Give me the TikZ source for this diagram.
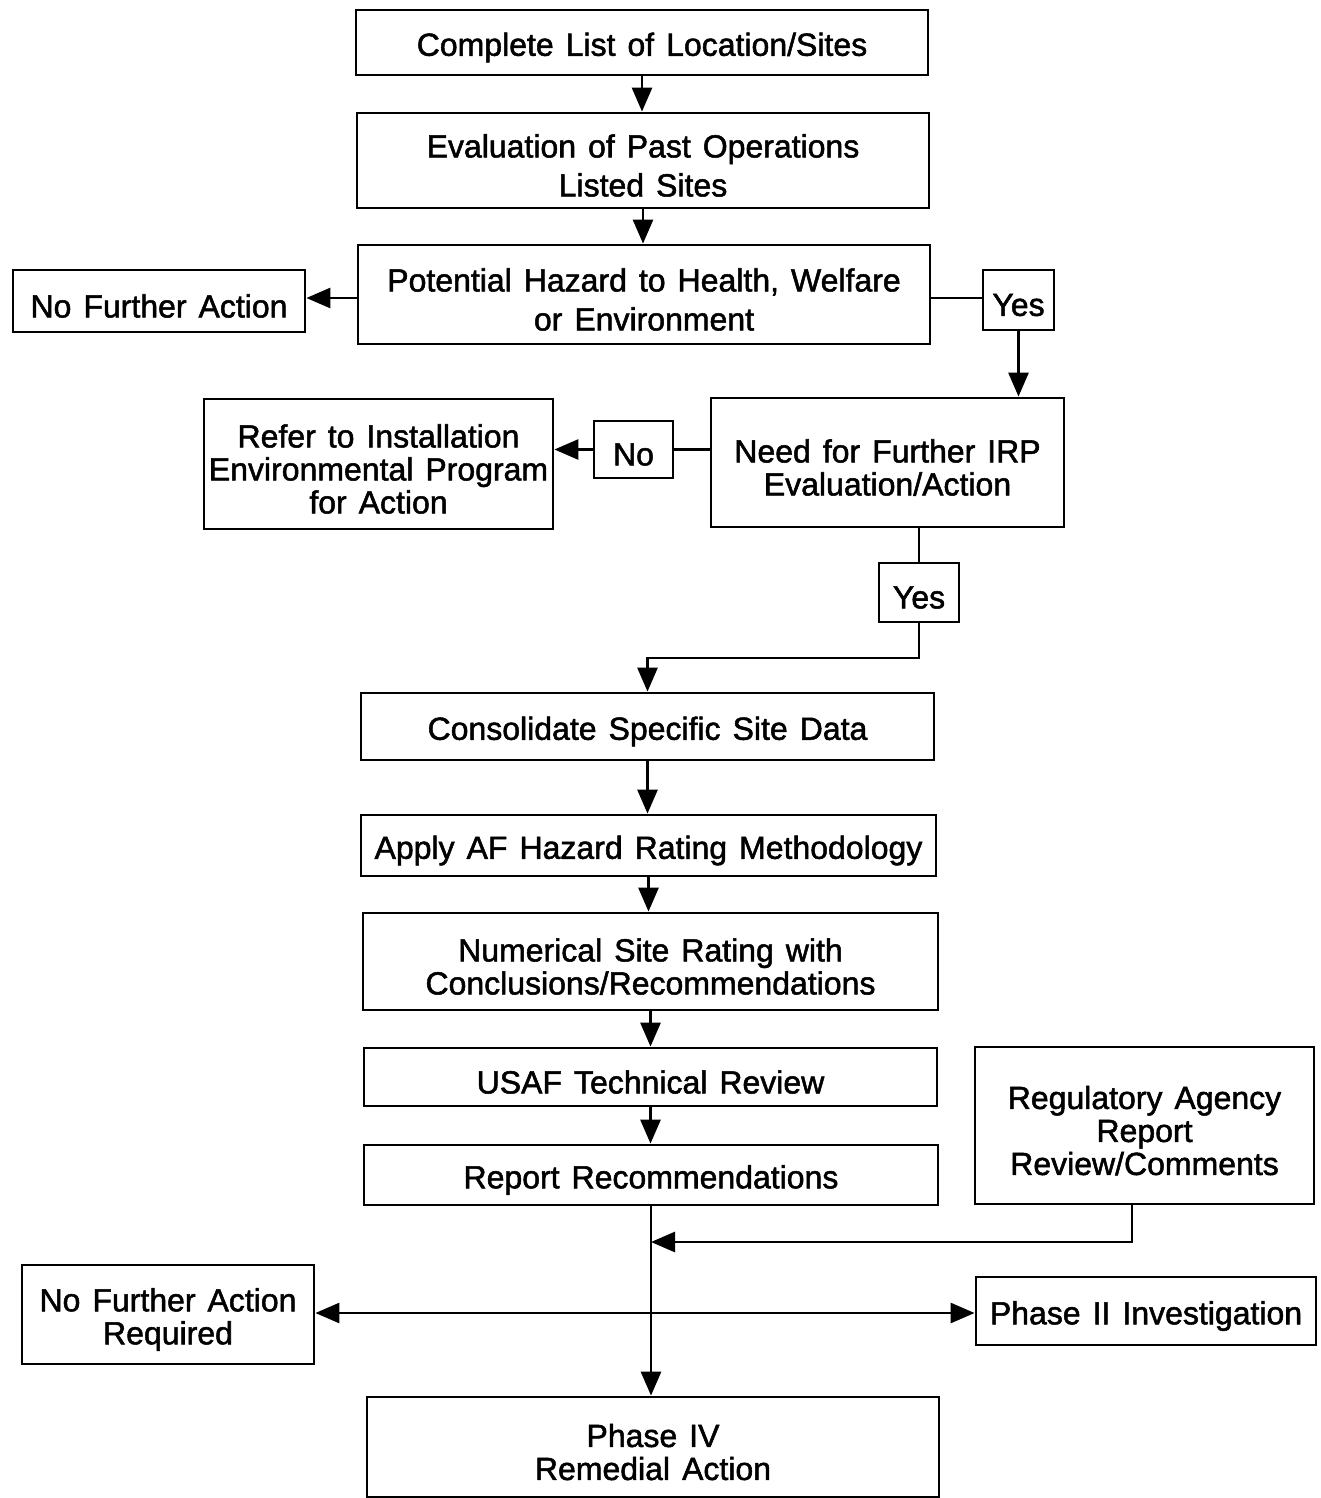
\documentclass[tikz,border=0pt]{standalone}
\usepackage{fontspec}
\setmainfont[WordSpace=1.35,FakeBold=1.6]{Liberation Sans}
\usetikzlibrary{arrows.meta,calc}
\tikzset{
  box/.style={draw, line width=1.4pt, inner sep=0pt},
  boxtext/.style={align=center, inner sep=0pt,
    font=\fontsize{16}{16.5}\selectfont},
  wide/.style={font=\fontsize{16}{19.5}\selectfont},
  conn/.style={line width=1.4pt},
  arr/.style={conn, -{Triangle[length=12pt,width=10pt]}},
  biarr/.style={conn, {Triangle[length=12pt,width=10pt]}-{Triangle[length=12pt,width=10pt]}}
}
\newcommand{\bx}[7][]{%
  \node[box,minimum width=#5*0.5pt,minimum height=#6*0.5pt] (#2) at (#3,#4) {};
  \node[boxtext,#1] (#2-t) at ($(#2)+(0,5)$) {#7};}
\begin{document}
\begin{tikzpicture}[x=0.5pt,y=-0.5pt]
\useasboundingbox[fill=white] (0,0) rectangle (1321,1498);
\bx{n1}{642}{42.5}{572}{65}{Complete List of Location/Sites}
\bx[wide]{n2}{643}{160.5}{572}{95}{Evaluation of Past Operations\\Listed Sites}
\bx[wide]{n3}{644}{294.5}{572}{99}{Potential Hazard to Health, Welfare\\or Environment}
\bx{nfa}{159}{301}{292}{62}{No Further Action}
\bx{yes1}{1018.5}{300}{71}{60}{Yes}
\bx{need}{887.5}{462.5}{353}{129}{Need for Further IRP\\Evaluation/Action}
\bx{no}{633.5}{449.5}{79}{57}{No}
\bx{refer}{378.5}{464}{349}{130}{Refer to Installation\\Environmental Program\\for Action}
\bx{yes2}{919}{592.5}{80}{59}{Yes}
\bx{cons}{647.5}{726.5}{573}{67}{Consolidate Specific Site Data}
\bx{apply}{648.5}{845.5}{575}{61}{Apply AF Hazard Rating Methodology}
\bx{num}{650.5}{961.5}{575}{97}{Numerical Site Rating with\\Conclusions/Recommendations}
\bx{usaf}{650.5}{1077}{573}{58}{USAF Technical Review}
\bx{rep}{651}{1175}{574}{60}{Report Recommendations}
\bx{reg}{1144.5}{1125.5}{339}{157}{Regulatory Agency\\Report\\Review/Comments}
\bx{nfar}{168}{1314.5}{292}{99}{No Further Action\\Required}
\bx{ph2}{1146}{1311}{340}{68}{Phase II Investigation}
\bx{ph4}{653}{1447}{572}{100}{Phase IV\\Remedial Action}
\coordinate (c1) at (919,658);
\coordinate (j1) at (1132,1242);
\coordinate (j2) at (651,1313);
\draw[arr] (n1.south) -- (n1.south |- n2.north);
\draw[arr] (n2.south) -- (n2.south |- n3.north);
\draw[arr] (n3.west |- 0,298) -- (nfa.east |- 0,298);
\draw[conn] (n3.east |- 0,298) -- (yes1.west |- 0,298);
\draw[arr] (yes1.south) -- (yes1.south |- need.north);
\draw[conn] (no.east) -- (no.east -| need.west);
\draw[arr] (no.west) -- (no.west -| refer.east);
\draw[conn] (yes2.north |- need.south) -- (yes2.north);
\draw[arr] (yes2.south) -- (c1) -| (cons.north);
\draw[arr] (cons.south) -- (cons.south |- apply.north);
\draw[arr] (apply.south) -- (apply.south |- num.north);
\draw[arr] (num.south) -- (num.south |- usaf.north);
\draw[arr] (usaf.south) -- (usaf.south |- rep.north);
\draw[arr] (rep.south) -- (rep.south |- ph4.north);
\draw[arr] (reg.south -| j1) -- (j1) -- (j1 -| rep.south);
\draw[biarr] (j2 -| nfar.east) -- (j2 -| ph2.west);
\end{tikzpicture}
\end{document}
